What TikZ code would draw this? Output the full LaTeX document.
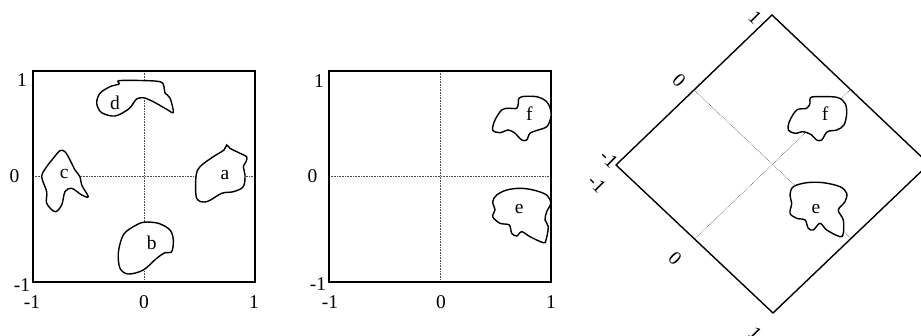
\documentclass[tikz,border=0pt]{standalone}
\usepackage{fontspec}
\setmainfont{Liberation Serif}
\usetikzlibrary{calc}
\begin{document}
\begin{tikzpicture}[x=1pt,y=-1pt,
  frame/.style={draw=black,line width=1.4pt},
  axisline/.style={draw=black!70,line width=0.6pt,densely dotted},
  blob/.style={draw=black,line width=1.4pt,fill=white},
  lab/.style={inner sep=0pt,font=\fontsize{19.5}{21}\selectfont},
  rlab/.style={lab,rotate=-45}]
\useasboundingbox (0,0) rectangle (921,336);
\clip (0,0) rectangle (921,336);

% ---------- panel 1 ----------
\coordinate (p1bl) at (33,282);
\coordinate (p1tr) at (255,71);
\draw[axisline] (33,176) coordinate (p1l) -- (255,176) coordinate (p1r);
\draw[axisline] (144,71) coordinate (p1t) -- (144,282) coordinate (p1b);
\draw[frame] (p1bl) rectangle (p1tr);

% blob d
\draw[blob] plot[smooth cycle,tension=0.55] coordinates {
 (119,80.7) (140,80.5) (160,81.7) (164,86.7) (165,93) (170,98) (173.3,112.3)
 (166.7,109.3) (153.3,101.7) (143.3,97.7) (136.7,99) (133.3,103.3) (128.3,109.3)
 (115,116) (101.7,112.7) (96.7,103.3) (100,93.3) (110,86.7) (119,84)};
\node[lab] (d) at (115,103) {d};
% blob a
\draw[blob] plot[smooth cycle,tension=0.55] coordinates {
 (226.7,145) (230,148.3) (240,153.3) (246.7,156.7) (246,161.7) (243.3,166.7)
 (245,175) (243.3,186.7) (233.3,191.7) (221.7,193.3) (206.7,201.7) (196.7,198.3)
 (196,176.7) (200,166.7) (213.3,156.7) (224,150)};
\node[lab] (a) at (225,175) {a};
% blob c
\draw[blob] plot[smooth cycle,tension=0.55] coordinates {
 (60,150.7) (65,151.7) (70,160) (75,170) (80,176.7) (81.7,185) (88.3,196.7)
 (81.7,195) (71.7,188.3) (65,191.7) (61.7,205) (55,211.7) (46.7,203.3)
 (46.7,191.7) (41.7,176.7) (46.7,166.7) (53.3,158.3)};
\node[lab] (c) at (64.3,174.3) {c};
% blob b
\draw[blob] plot[smooth cycle,tension=0.55] coordinates {
 (143.3,222.3) (158.3,223.3) (170,230) (173.3,240) (171.7,251.7) (165,252.7)
 (156.7,258.3) (143.3,270) (128.3,274) (120,268.3) (118.3,253.3) (121.7,238.3)
 (126,231.7) (133.3,226.7)};
\node[lab] (b) at (151.7,243.3) {b};

\node[lab] (p1y1) at (22,80) {1};
\node[lab] (p1y0) at (14.5,176.5) {0};
\node[lab] (p1ym) at (22,285) {-1};
\node[lab] (p1xm) at (32,302) {-1};
\node[lab] (p1x0) at (144,302) {0};
\node[lab] (p1x1) at (254,302) {1};

% ---------- panel 2 ----------
\coordinate (p2bl) at (329,282);
\coordinate (p2tr) at (551,71);
\draw[axisline] (329,176) coordinate (p2l) -- (551,176) coordinate (p2r);
\draw[axisline] (440,71) coordinate (p2t) -- (440,282) coordinate (p2b);
\draw[frame] (p2bl) rectangle (p2tr);

% blob f
\draw[blob] plot[smooth cycle,tension=0.55] coordinates {
 (518.3,100) (521.7,96.7) (536.7,96.7) (546.7,101.7) (550.7,110) (550.7,118.3)
 (546.7,126.7) (538.3,130) (530,133.3) (526.7,140) (521.7,140) (515,133.3)
 (508.3,130) (500,132.7) (492.7,130) (495,120) (501.7,110) (508.3,108.3)
 (516.7,108.3) (518.3,103.3)};
\node[lab] (f2) at (529.3,113.3) {f};
% blob e
\draw[blob] plot[smooth cycle,tension=0.55] coordinates {
 (496.7,195) (506.7,190) (520,188.3) (533.3,190) (546.7,195) (550.7,203.3)
 (546.7,211.7) (545,220) (548.3,226.7) (546,240) (543.3,242.7) (530,236.7)
 (521.7,231.7) (516.7,236) (511.7,233.3) (509.3,225) (500,223.3) (492.7,216.7)
 (495,210) (492.7,201.7)};
\node[lab] (e2) at (519.3,209.3) {e};

\node[lab] (p2y1) at (319,81) {1};
\node[lab] (p2y0) at (312.5,176.5) {0};
\node[lab] (p2ym) at (318,284) {-1};
\node[lab] (p2xm) at (330,302) {-1};
\node[lab] (p2x0) at (441,302) {0};
\node[lab] (p2x1) at (551,302) {1};

% ---------- panel 3 ----------
\coordinate (dt) at (772,15);
\coordinate (dl) at (616,165);
\coordinate (db) at (773,313);
\coordinate (dr) at (929,164);
\draw[axisline] ($(dl)!0.5!(dt)$) -- ($(db)!0.5!(dr)$);
\draw[axisline] ($(dl)!0.5!(db)$) -- ($(dt)!0.5!(dr)$);
\draw[frame,line join=miter] (dt) -- (dr) -- (db) -- (dl) -- cycle;

% blob f
\draw[blob] plot[smooth cycle,tension=0.55] coordinates {
 (810,98.3) (815,96.7) (836.7,97.3) (845,103.3) (846.7,113.3) (844,125)
 (836.7,130) (827.3,131.7) (821.7,140) (816.7,140) (811.7,135) (803.3,131.7)
 (795,133.3) (788.3,130) (789.3,121.7) (796.7,110) (806.7,108.3) (810,103.3)};
\node[lab] (f3) at (825,113.3) {f};
% blob e
\draw[blob] plot[smooth cycle,tension=0.55] coordinates {
 (793.3,186.7) (806.7,182.7) (823.3,182.7) (840,186.7) (846.7,193.3) (845,201.7)
 (838.3,210) (843.3,220) (843.3,233.3) (840,236.7) (826.7,230) (820,223.3)
 (813.3,230) (808.3,228.3) (805,220) (796.7,218.3) (790,213.3) (791.7,203.3)
 (790,195)};
\node[lab] (e3) at (816,209.3) {e};

\node[rlab] (p3y1) at (755,17) {1};
\node[rlab] (p3y0) at (679,80) {0};
\node[rlab] (p3ym) at (609,159) {-1};
\node[rlab] (p3xm) at (597,184) {-1};
\node[rlab] (p3x0) at (675,258) {0};
\node[rlab] (p3x1) at (755,333) {1};
\end{tikzpicture}
\end{document}
